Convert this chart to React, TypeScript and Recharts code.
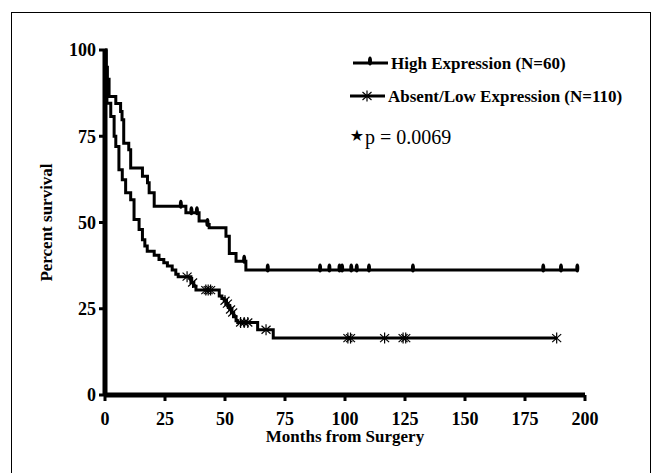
import { ComposedChart, Line, Scatter, XAxis, YAxis, Label } from "recharts";

const FONT = '"Liberation Serif", "Times New Roman", serif';

// Kaplan-Meier steps (months, percent surviving)
const highMonths = [0, 0.5, 1.0, 1.7, 4.5, 6.5, 7.1, 7.8, 9.9, 10.7, 15.6, 17.7, 18.4, 20.5, 33.7, 39.2, 42.6, 43.4, 50.4, 51.8, 54.6, 58.7, 197];
const highSurvival = [100, 95, 91.5, 86.5, 84.5, 82.2, 79.8, 73, 71.1, 65.8, 63.4, 61.5, 58.6, 54.7, 52.8, 50.4, 49.4, 48.5, 46, 41, 38.8, 36.2, 36.2];
const highCensored = [31.6, 36, 38.3, 42.7, 58, 67.8, 89.6, 93.5, 97.7, 98.8, 102.6, 104.9, 110, 128.3, 182.6, 190, 196.8];

const lowMonths = [0, 0.3, 0.8, 2.4, 3.8, 4.5, 5.8, 7.2, 8.6, 10.7, 12.1, 14.2, 15.6, 16.6, 17.6, 20.5, 22.5, 24.5, 26, 28, 29.5, 30.5, 35.8, 37, 37.9, 47.6, 48.7, 49.7, 50.5, 51.3, 52, 52.8, 53.6, 54.6, 55.3, 63.6, 70.1, 188.2];
const lowSurvival = [100, 91, 84.6, 80.7, 75, 72, 65.3, 62.4, 58.6, 56.6, 50.9, 48, 45, 43.2, 41.7, 40.5, 39.3, 38.3, 37.4, 36.2, 35, 34.3, 32.6, 31.5, 30.4, 28.7, 28, 27.3, 26.5, 25.8, 24.8, 23.9, 22.7, 21.5, 21, 18.9, 16.5, 16.5];
const lowCensored = [34.2, 36.5, 42, 43, 44, 50, 51, 52.3, 53.2, 56.5, 58, 59.5, 67.1, 101.2, 102.3, 116.5, 124.2, 125.3, 188.2];

const xTicks = [0, 25, 50, 75, 100, 125, 150, 175, 200];
const yTicks = [0, 25, 50, 75, 100];

const toPoints = (months: number[], surv: number[]) =>
  months.map((t, i) => ({ t, s: surv[i] }));

// survival value of the step curve at time t
const survAt = (months: number[], surv: number[], t: number) => {
  let v = surv[0];
  months.forEach((m, i) => {
    if (m <= t) v = surv[i];
  });
  return v;
};

const highCurve = toPoints(highMonths, highSurvival);
const lowCurve = toPoints(lowMonths, lowSurvival);
const highMarks = highCensored.map((t) => ({ t, s: survAt(highMonths, highSurvival, t) }));
const lowMarks = lowCensored.map((t) => ({ t, s: survAt(lowMonths, lowSurvival, t) }));

function HighMark({ cx, cy }: any) {
  return <ellipse cx={cx} cy={cy - 2} rx={2} ry={4.5} fill="#000" />;
}

function LowMark({ cx, cy }: any) {
  const r = 5.5;
  return (
    <g stroke="#000" strokeWidth={1.2}>
      <line x1={cx} y1={cy - r} x2={cx} y2={cy + r} />
      <line x1={cx - 4.5} y1={cy - 4} x2={cx + 4.5} y2={cy + 4} />
      <line x1={cx - 4.5} y1={cy + 4} x2={cx + 4.5} y2={cy - 4} />
    </g>
  );
}

const tickStyle = { fill: "#000", fontSize: 18, fontWeight: 700, fontFamily: FONT };
const titleStyle = { fill: "#000", fontSize: 17, fontWeight: 700, fontFamily: FONT };

export default function App() {
  return (
    <div style={{ position: "absolute", left: 0, top: 0, width: 655, height: 473, background: "#fff", overflow: "hidden" }}>
      <div style={{ position: "absolute", left: 11, top: 12, width: 638, height: 480, border: "1px solid #000" }} />
      <ComposedChart width={655} height={473} margin={{ top: 50, right: 70, bottom: 10, left: 45 }}>
        <XAxis
          dataKey="t"
          type="number"
          domain={[0, 200]}
          ticks={xTicks}
          interval={0}
          tick={tickStyle}
          tickSize={6}
          tickMargin={11}
          tickLine={{ stroke: "#000", strokeWidth: 3 }}
          axisLine={{ stroke: "#000", strokeWidth: 5 }}
          height={68}
        >
          <Label value="Months from Surgery" position="insideBottom" offset={21} style={titleStyle} />
        </XAxis>
        <YAxis
          type="number"
          domain={[0, 100]}
          ticks={yTicks}
          interval={0}
          tick={tickStyle}
          tickSize={6}
          tickMargin={3}
          tickLine={{ stroke: "#000", strokeWidth: 3 }}
          axisLine={{ stroke: "#000", strokeWidth: 5 }}
          width={60}
        >
          <Label
            value="Percent survival"
            angle={-90}
            position="insideLeft"
            offset={1}
            textAnchor="middle"
            style={{ ...titleStyle, textAnchor: "middle" }}
          />
        </YAxis>
        <Line data={highCurve} dataKey="s" type="stepAfter" stroke="#000" strokeWidth={3} dot={false} isAnimationActive={false} />
        <Line data={lowCurve} dataKey="s" type="stepAfter" stroke="#000" strokeWidth={3} dot={false} isAnimationActive={false} />
        <Scatter data={highMarks} dataKey="s" shape={HighMark} isAnimationActive={false} />
        <Scatter data={lowMarks} dataKey="s" shape={LowMark} isAnimationActive={false} />
      </ComposedChart>
      <svg width={655} height={473} style={{ position: "absolute", left: 0, top: 0, pointerEvents: "none" }}>
        <line x1={353} y1={63} x2={388} y2={63} stroke="#000" strokeWidth={3} />
        <HighMark cx={370} cy={63} />
        <text x={391} y={63} dominantBaseline="central" fontSize={17} fontWeight={700} fontFamily={FONT}>
          High Expression (N=60)
        </text>
        <line x1={350} y1={96} x2={385} y2={96} stroke="#000" strokeWidth={3} />
        <LowMark cx={367} cy={96} />
        <text x={388} y={96} dominantBaseline="central" fontSize={17} fontWeight={700} fontFamily={FONT}>
          Absent/Low Expression (N=110)
        </text>
        <text x={357} y={135} dominantBaseline="central" textAnchor="middle" fontSize={16} fontFamily='"DejaVu Sans", sans-serif'>
          ★
        </text>
        <text x={365} y={137} dominantBaseline="central" fontSize={20} fontFamily={FONT}>
          p = 0.0069
        </text>
      </svg>
    </div>
  );
}
